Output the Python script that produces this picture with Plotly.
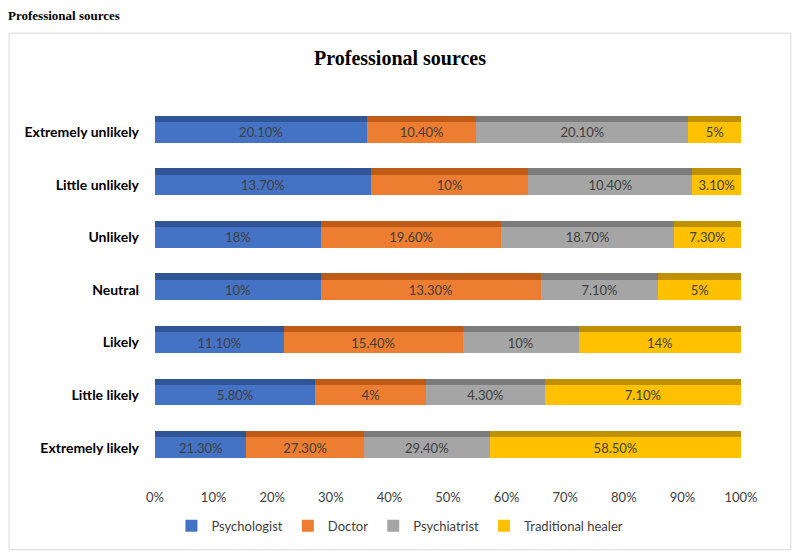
import plotly.graph_objects as go

categories = ['Extremely unlikely', 'Little unlikely', 'Unlikely', 'Neutral',
              'Likely', 'Little likely', 'Extremely likely']
psychologist = [20.10, 13.70, 18, 10, 11.10, 5.80, 21.30]
doctor = [10.40, 10, 19.60, 13.30, 15.40, 4, 27.30]
psychiatrist = [20.10, 10.40, 18.70, 7.10, 10, 4.30, 29.40]
traditional = [5, 3.10, 7.30, 5, 14, 7.10, 58.50]
x_ticks = [0, 10, 20, 30, 40, 50, 60, 70, 80, 90, 100]
x_labels = ['0%', '10%', '20%', '30%', '40%', '50%', '60%', '70%', '80%', '90%', '100%']

series = [
    ('Psychologist', psychologist, '#4472C4', '#2F5597'),
    ('Doctor', doctor, '#ED7D31', '#C05A17'),
    ('Psychiatrist', psychiatrist, '#A5A5A5', '#7C7C7C'),
    ('Traditional healer', traditional, '#FFC000', '#BF9000'),
]


def fmt(v):
    return '%d%%' % v if float(v).is_integer() else '%.2f%%' % v


fig = go.Figure()
for name, vals, col, dark in series:
    # front face of the bar
    fig.add_trace(go.Bar(
        y=categories, x=vals, name=name, orientation='h',
        marker=dict(color=col, line=dict(width=0)), width=0.39,
        text=[fmt(v) for v in vals], textposition='inside',
        insidetextanchor='middle', constraintext='none',
        textfont=dict(family='Lato', size=13, color='#404040'),
    ))
for name, vals, col, dark in series:
    # darker top strip to fake the 3D look
    fig.add_trace(go.Bar(
        y=categories, x=vals, name=name, orientation='h', yaxis='y2',
        marker=dict(color=dark, line=dict(width=0)), width=0.12,
        showlegend=False, hoverinfo='skip',
    ))

# page body has an 8px margin, so the figure is a bit smaller than the window
shift = 0.255
fig.update_layout(
    width=784, height=544,
    barmode='stack', barnorm='percent',
    paper_bgcolor='white', plot_bgcolor='white',
    margin=dict(l=147, r=51, t=98, b=77),
    font=dict(family='Lato', color='#404040'),
    title=dict(text='<b>Professional sources</b>', xref='container', x=0.0,
               xanchor='left', yref='container', y=0.994, yanchor='top',
               font=dict(family='Liberation Serif', size=13, color='black')),
    xaxis=dict(range=[0, 100], tickvals=x_ticks, ticktext=x_labels,
               showgrid=False, zeroline=False, showline=False,
               tickfont=dict(size=13, color='#404040'), ticklen=0,
               ticklabelstandoff=14, fixedrange=True),
    yaxis=dict(categoryorder='array', categoryarray=categories,
               range=[6.5, -0.5], showgrid=False, showline=False,
               tickfont=dict(size=14, color='black', family='Lato', weight='bold'),
               ticklabelstandoff=15, fixedrange=True),
    yaxis2=dict(overlaying='y', categoryorder='array', categoryarray=categories,
                range=[6.5 + shift, -0.5 + shift], visible=False, fixedrange=True),
    legend=dict(orientation='h', x=0.418, xanchor='center', y=-0.138,
                yanchor='middle', font=dict(size=13, color='#404040'),
                itemwidth=30, traceorder='normal'),
    showlegend=True,
)
fig.add_annotation(text='<b>Professional sources</b>', xref='paper', yref='paper',
                   x=0.418, y=1.13, yanchor='middle', showarrow=False,
                   font=dict(family='Liberation Serif', size=20, color='black'))
fig.add_shape(type='rect', xref='paper', yref='paper',
              x0=-0.249, x1=1.085, y0=-0.206, y1=1.198,
              line=dict(color='#D9D9D9', width=1))

fig.write_html('out.html')
